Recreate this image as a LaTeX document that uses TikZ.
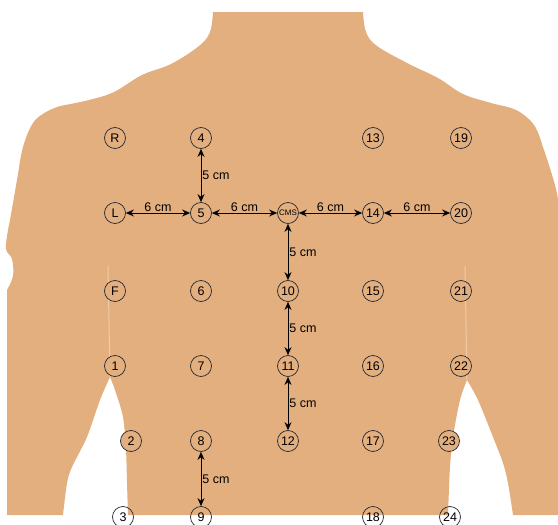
\documentclass[tikz,border=0pt]{standalone}
\usepackage{fontspec}
\setmainfont{Liberation Sans}
\usetikzlibrary{arrows.meta}

\definecolor{haut}{RGB}{227,175,127}
\definecolor{hautlicht}{RGB}{240,204,166}
\definecolor{ring}{RGB}{35,42,52}

\tikzset{
    elektrode/.style = {circle, draw = ring, fill = haut, line width = 0.7pt,
        minimum size = 21pt, inner sep = 0pt, font = \fontsize{12.5}{14}\selectfont},
    abstand/.style = {{Stealth[length = 8pt, width = 7pt]}-{Stealth[length = 8pt, width = 7pt]},
        line width = 0.9pt},
    masz/.style = {font = \fontsize{12.5}{14}\selectfont, inner sep = 1pt}
}

\begin{document}
\begin{tikzpicture}[x = 1pt, y = -1pt]
        \useasboundingbox (0, 0) rectangle (558, 525);

        % Oberkoerper
        \fill [haut] (213, 12) -- (363, 12)
            -- plot [smooth, tension = 0.6] coordinates {(363, 12) (366, 32) (377, 46) (409, 64) (438, 78)
                (463, 94) (491, 103) (516, 110) (534, 125) (544, 150) (555, 185) (558, 200)}
            -- (558, 515) -- (513, 515)
            -- plot [smooth] coordinates {(513, 515) (508, 483) (503, 463) (493, 437) (478, 400) (467, 380)}
            -- plot [smooth] coordinates {(467, 380) (460, 400) (453, 437) (450, 467) (448, 515)}
            -- (128, 515)
            -- plot [smooth] coordinates {(128, 515) (127, 483) (126, 450) (123, 417) (115, 390) (110, 377)}
            -- plot [smooth] coordinates {(110, 377) (100, 400) (87, 437) (72, 467) (67, 483) (63, 515)}
            -- (7, 515) -- (7, 290)
            -- plot [smooth, tension = 0.6] coordinates {(7, 290) (13, 276) (12, 259) (6, 249) (8, 230)
                (10, 220) (17, 180) (23, 147) (33, 123) (46, 112) (60, 106)}
            -- plot [smooth, tension = 0.6] coordinates {(60, 106) (89, 100) (114, 92) (142, 75) (171, 64)
                (199, 46) (210, 32) (213, 12)}
            -- cycle;

        % Lichtkanten an den Flanken
        \draw [hautlicht, line width = 1pt] (108, 266) -- (110, 377);
        \draw [hautlicht, line width = 1pt] (465, 266) -- (467, 380);

        % Reihe 1
        \node [elektrode] (R) at (115, 138) {R};
        \node [elektrode] (e4) at (201, 138) {4};
        \node [elektrode] (e13) at (373, 138) {13};
        \node [elektrode] (e19) at (461, 138) {19};

        % Reihe 2
        \node [elektrode] (L) at (115, 213) {L};
        \node [elektrode] (e5) at (201, 213) {5};
        \node [elektrode, font = \fontsize{8}{8}\selectfont] (cms) at (288, 213) {CMS};
        \node [elektrode] (e14) at (373, 213) {14};
        \node [elektrode] (e20) at (461, 213) {20};

        % Reihe 3
        \node [elektrode] (F) at (115, 291) {F};
        \node [elektrode] (e6) at (201, 291) {6};
        \node [elektrode] (e10) at (288, 291) {10};
        \node [elektrode] (e15) at (373, 291) {15};
        \node [elektrode] (e21) at (461, 291) {21};

        % Reihe 4
        \node [elektrode] (e1) at (115, 366) {1};
        \node [elektrode] (e7) at (201, 366) {7};
        \node [elektrode] (e11) at (288, 366) {11};
        \node [elektrode] (e16) at (373, 366) {16};
        \node [elektrode] (e22) at (461, 366) {22};

        % Reihe 5
        \node [elektrode] (e2) at (131, 441) {2};
        \node [elektrode] (e8) at (201, 441) {8};
        \node [elektrode] (e12) at (288, 441) {12};
        \node [elektrode] (e17) at (373, 441) {17};
        \node [elektrode] (e23) at (449, 441) {23};

        % Reihe 6 (unten angeschnitten)
        \node [elektrode, fill = none] (e3) at (123, 517) {3};
        \node [elektrode, fill = none] (e9) at (201, 517) {9};
        \node [elektrode, fill = none] (e18) at (373, 517) {18};
        \node [elektrode, fill = none] (e24) at (450, 517) {24};

        % Abstaende waagrecht
        \draw [abstand] (L) -- node [masz, above] {6 cm} (e5);
        \draw [abstand] (e5) -- node [masz, above] {6 cm} (cms);
        \draw [abstand] (cms) -- node [masz, above] {6 cm} (e14);
        \draw [abstand] (e14) -- node [masz, above] {6 cm} (e20);

        % Abstaende senkrecht
        \draw [abstand] (e4) -- node [masz, right] {5 cm} (e5);
        \draw [abstand] (cms) -- node [masz, right] {5 cm} (e10);
        \draw [abstand] (e10) -- node [masz, right] {5 cm} (e11);
        \draw [abstand] (e11) -- node [masz, right] {5 cm} (e12);
        \draw [abstand] (e8) -- node [masz, right] {5 cm} (e9);
    \end{tikzpicture}
\end{document}
